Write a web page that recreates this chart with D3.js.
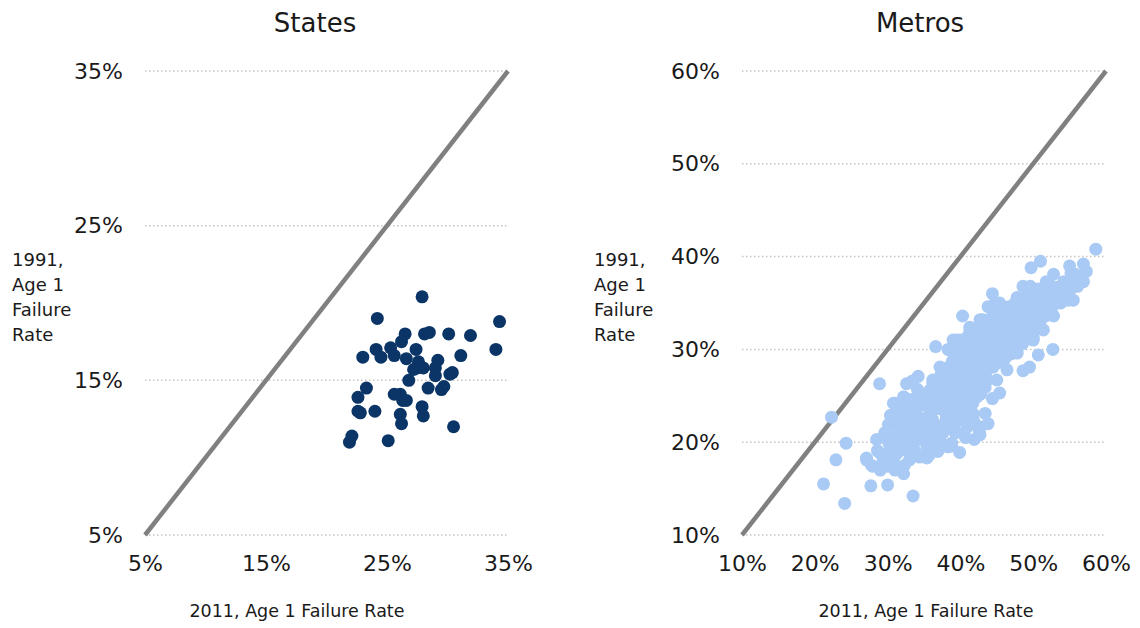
<!DOCTYPE html>
<html>
<head>
<meta charset="utf-8">
<script src="https://cdn.jsdelivr.net/npm/d3@7"></script>
<style>
  html, body { margin: 0; padding: 0; background: #ffffff; }
  svg { display: block; }
  text { font-family: "DejaVu Sans", sans-serif; fill: #1a1a1a; }
</style>
</head>
<body>
<svg id="chart" width="1140" height="628"></svg>
<script>
// Age 1 failure rates (%), 2011 (x) against 1991 (y)
const stateTicks = [5, 15, 25, 35];
const metroTicks = [10, 20, 30, 40, 50, 60];

const statePoints = [
  [27.9, 20.4], [24.2, 19.0], [34.3, 18.8], [34.0, 17.0], [26.5, 18.0],
  [26.2, 17.5], [28.1, 18.0], [28.5, 18.1], [30.1, 18.0], [31.9, 17.9],
  [23.0, 16.5], [24.1, 17.0], [24.5, 16.5], [25.3, 17.1], [25.6, 16.6],
  [26.6, 16.4], [27.4, 17.0], [27.6, 16.2], [29.2, 16.3], [31.1, 16.6],
  [27.2, 15.7], [27.5, 15.8], [28.0, 15.8], [29.0, 15.8], [29.0, 15.3],
  [30.2, 15.4], [30.4, 15.5], [26.8, 15.0], [28.4, 14.5], [29.7, 14.6],
  [29.5, 14.4], [23.3, 14.5], [22.6, 13.9], [25.6, 14.1], [26.1, 14.1],
  [26.3, 13.7], [26.6, 13.7], [22.6, 13.0], [22.8, 12.9], [24.0, 13.0],
  [27.9, 13.3], [28.0, 12.7], [26.1, 12.8], [26.2, 12.2], [30.5, 12.0],
  [22.1, 11.4], [21.9, 11.0], [25.1, 11.1]
];

// Outlying metros and the edges of the cloud
const metroOuter = [
  [58.6, 40.8], [51.0, 39.5], [49.7, 38.8], [55.0, 39.0], [55.2, 38.2],
  [56.9, 39.2], [57.3, 38.4], [56.4, 37.8], [56.9, 37.3], [56.1, 36.8],
  [52.8, 38.1], [51.8, 37.3], [48.6, 36.8], [49.6, 36.8], [44.4, 36.0],
  [44.8, 35.0], [54.8, 35.3], [53.8, 35.0], [52.8, 33.6], [40.3, 33.6],
  [52.7, 30.0], [50.7, 29.4], [36.6, 30.3], [38.3, 30.0], [48.6, 27.7],
  [49.5, 28.1], [45.4, 25.3], [44.4, 24.7], [42.8, 25.2], [28.9, 26.3],
  [32.6, 26.3], [34.2, 27.1], [33.4, 26.6], [22.3, 22.7], [24.3, 19.9],
  [22.9, 18.1], [21.2, 15.5], [24.1, 13.4], [27.7, 15.3], [30.0, 15.4],
  [33.5, 14.2], [32.2, 16.6], [31.0, 17.0], [30.1, 17.4], [29.0, 17.0],
  [28.0, 17.4], [27.1, 18.1], [28.5, 20.3], [30.1, 21.9], [31.0, 24.2],
  [32.2, 24.9], [32.4, 23.8], [35.1, 24.5], [34.9, 24.0], [33.0, 18.1],
  [33.1, 18.8], [35.4, 18.3], [35.7, 18.6], [39.9, 18.9], [37.2, 19.9],
  [38.3, 19.5], [38.8, 19.9], [39.3, 21.0], [42.7, 20.8], [42.5, 21.7],
  [43.4, 23.1], [43.8, 22.0], [27.1, 18.3], [27.8, 17.5], [28.9, 17.2],
  [29.9, 18.2], [31.0, 18.6], [31.3, 17.4], [33.1, 18.2], [37.7, 19.7],
  [38.8, 19.6], [39.4, 21.1], [42.6, 21.2]
];

// Lower part of the cloud (2011 rates of roughly 29-43%)
const metroLower = [
  [29.9, 20.3], [31.3, 21.0], [30.6, 19.5], [32.6, 20.1], [34.0, 20.6],
  [35.4, 20.2], [37.2, 20.6], [36.7, 21.7], [32.6, 22.0], [34.5, 22.4],
  [33.5, 23.1], [35.4, 22.7], [31.7, 24.2], [32.4, 23.5], [30.8, 24.2],
  [34.9, 21.5], [37.2, 26.0], [38.1, 26.7], [39.5, 27.1], [37.2, 24.9],
  [39.0, 24.2], [40.9, 24.5], [41.8, 25.6], [42.7, 25.3], [39.9, 23.1],
  [41.3, 23.5], [38.1, 22.7], [41.8, 22.4], [36.3, 23.5], [30.7, 20.2],
  [31.7, 21.0], [33.5, 21.6], [36.2, 22.4], [35.4, 20.6], [37.2, 21.0],
  [38.2, 23.8], [39.5, 23.1], [40.9, 23.1], [41.7, 24.2], [39.9, 24.9],
  [31.3, 23.1], [32.7, 22.7], [34.0, 22.4], [33.4, 23.8], [32.1, 23.5],
  [32.7, 21.6], [34.5, 21.6], [35.8, 21.0], [36.8, 21.6], [31.7, 20.2],
  [30.7, 19.5], [29.9, 18.8], [31.3, 18.8], [29.0, 18.8], [29.4, 18.1],
  [32.7, 19.5], [34.0, 20.2], [35.4, 19.5], [36.8, 20.2], [37.6, 21.0],
  [38.2, 22.4], [39.0, 21.6], [39.9, 22.4], [41.3, 23.8], [41.7, 23.1],
  [40.9, 21.6], [42.3, 24.9], [39.0, 24.5], [37.6, 23.5], [36.2, 23.8],
  [37.2, 24.5], [38.2, 25.3], [34.5, 24.9], [37.2, 25.3], [36.2, 26.4],
  [35.8, 25.6], [36.2, 26.7], [37.2, 25.9],
  [30.2, 19.9], [31.9, 19.2], [33.8, 19.0], [36.1, 19.3], [35.0, 21.1],
  [33.0, 21.2], [31.4, 22.2], [33.9, 23.4], [35.9, 22.0], [37.9, 22.1],
  [38.7, 23.3], [40.4, 22.8], [40.5, 24.0], [41.1, 25.2], [39.7, 25.7],
  [38.6, 25.0], [36.8, 24.0], [35.6, 24.6], [34.1, 25.7], [33.3, 24.6],
  [30.4, 22.9], [29.6, 21.0], [28.6, 19.1], [32.3, 17.5], [34.4, 18.4],
  [36.9, 19.0], [40.7, 20.5], [41.9, 20.3]
];

// Dense core of the cloud (2011 rates of roughly 36-56%)
const metroCore = [
  [36.5, 24.2], [36.4, 25.4], [36.6, 26.6], [37.3, 23.6], [37.2, 24.8],
  [37.4, 26.1], [37.3, 27.2], [38.1, 24.4], [38.0, 25.6], [38.2, 26.9],
  [38.1, 28.0], [38.9, 25.0], [38.8, 26.2], [39.0, 27.5], [38.9, 28.7],
  [39.7, 25.5], [39.6, 26.8], [39.8, 28.0], [39.7, 29.3], [39.5, 30.4],
  [40.5, 26.0], [40.4, 27.3], [40.6, 28.5], [40.5, 29.8], [40.3, 31.0],
  [41.3, 26.4], [41.2, 27.8], [41.4, 29.0], [41.3, 30.3], [41.1, 31.5],
  [42.1, 26.9], [42.0, 28.2], [42.2, 29.5], [42.1, 30.8], [41.9, 32.0],
  [42.9, 27.3], [42.8, 28.7], [43.0, 30.0], [42.9, 31.2], [42.7, 32.6],
  [43.7, 27.8], [43.6, 29.1], [43.8, 30.4], [43.7, 31.7], [43.5, 33.0],
  [44.5, 28.2], [44.4, 29.5], [44.6, 30.8], [44.5, 32.1], [44.3, 33.4],
  [45.3, 28.6], [45.2, 29.9], [45.4, 31.2], [45.3, 32.5], [45.1, 33.8],
  [46.1, 29.0], [46.0, 30.3], [46.2, 31.6], [46.1, 32.9], [45.9, 34.2],
  [46.9, 29.5], [46.8, 30.7], [47.0, 32.0], [46.9, 33.3], [46.7, 34.6],
  [47.7, 30.0], [47.6, 31.2], [47.8, 32.4], [47.7, 33.7], [47.5, 35.0],
  [48.5, 30.6], [48.4, 31.7], [48.6, 32.9], [48.5, 34.1], [48.3, 35.3],
  [49.3, 31.3], [49.2, 32.4], [49.4, 33.4], [49.3, 34.5], [49.1, 35.6],
  [50.1, 32.0], [50.0, 33.0], [50.2, 34.0], [50.1, 35.0], [49.9, 36.0],
  [50.9, 32.8], [50.8, 33.7], [51.0, 34.6], [50.9, 35.5], [50.7, 36.5],
  [51.7, 33.6], [51.6, 34.4], [51.8, 35.3], [51.7, 36.2], [52.5, 34.4],
  [52.4, 35.2], [52.6, 36.0], [52.5, 36.8], [53.3, 35.0], [53.2, 35.9],
  [53.4, 36.7], [54.1, 35.7], [54.0, 36.5], [54.2, 37.3], [54.9, 36.2],
  [55.0, 37.0], [55.5, 35.3], [55.8, 38.1],
  [30.7, 20.2], [39.0, 31.0], [40.9, 31.0], [41.7, 32.1], [43.1, 33.2],
  [44.5, 33.5], [45.9, 34.2], [47.2, 34.6], [48.6, 35.3], [50.0, 35.6],
  [50.9, 36.4], [52.3, 36.1], [53.7, 36.7], [55.1, 36.4], [49.6, 33.9],
  [50.9, 32.4], [50.0, 31.3], [48.6, 30.7], [47.2, 29.9], [45.9, 28.9],
  [44.5, 28.1], [43.7, 26.7], [42.3, 25.9], [45.4, 31.0], [47.2, 32.4],
  [44.1, 31.0], [42.7, 30.3], [43.7, 32.4], [41.3, 32.1], [39.9, 31.0],
  [38.6, 29.9], [37.2, 28.1], [39.5, 25.9], [41.3, 26.7], [42.7, 27.5],
  [44.5, 29.9], [46.4, 31.8], [48.2, 33.2], [49.6, 32.8], [50.9, 34.6],
  [51.9, 35.3], [53.3, 35.6], [39.5, 31.0], [41.3, 32.4], [42.7, 33.2],
  [43.8, 34.6], [45.4, 35.0], [47.8, 35.6], [49.1, 36.4], [51.4, 32.1],
  [50.0, 31.0], [47.8, 29.6], [46.4, 27.8], [45.0, 26.7], [43.4, 25.9],
  [40.9, 28.1], [41.7, 29.2], [39.5, 29.2], [39.5, 27.5], [38.2, 26.7]
];

const metroPoints = metroOuter.concat(metroLower, metroCore);

const panels = [
  {
    title: "States", ticks: stateTicks, domain: [5, 35], data: statePoints,
    color: "#0b3567", x0: 145, x1: 508, titleX: 315, axisTitleX: 297, yTitleX: 12
  },
  {
    title: "Metros", ticks: metroTicks, domain: [10, 60], data: metroPoints,
    color: "#a9caf4", x0: 742, x1: 1106, titleX: 920, axisTitleX: 926, yTitleX: 594
  }
];

const plotTop = 71, plotBottom = 535;
const svg = d3.select("#chart");
const fmt = d => d + "%";

panels.forEach(p => {
  const x = d3.scaleLinear().domain(p.domain).range([p.x0, p.x1]);
  const y = d3.scaleLinear().domain(p.domain).range([plotBottom, plotTop]);
  const g = svg.append("g");

  // dotted horizontal gridlines
  g.append("g").selectAll("line").data(p.ticks).join("line")
    .attr("x1", p.x0).attr("x2", p.x1)
    .attr("y1", d => y(d)).attr("y2", d => y(d))
    .attr("stroke", "#c4c4c4").attr("stroke-width", 1.5)
    .attr("stroke-dasharray", "1.5,2.5");

  // y axis labels
  const yAxis = d3.axisLeft(y).tickValues(p.ticks).tickFormat(fmt).tickSize(0).tickPadding(22);
  const ya = g.append("g").attr("transform", `translate(${p.x0},0)`).call(yAxis);
  ya.select(".domain").remove();
  ya.selectAll("text").style("font-size", "22px").style("font-family", "DejaVu Sans").attr("fill", "#1a1a1a");

  // x axis labels
  const xAxis = d3.axisBottom(x).tickValues(p.ticks).tickFormat(fmt).tickSize(0).tickPadding(20);
  const xa = g.append("g").attr("transform", `translate(0,${plotBottom})`).call(xAxis);
  xa.select(".domain").remove();
  xa.selectAll("text").style("font-size", "22px").style("font-family", "DejaVu Sans").attr("fill", "#1a1a1a");

  // 45-degree reference line
  g.append("line")
    .attr("x1", x(p.domain[0])).attr("y1", y(p.domain[0]))
    .attr("x2", x(p.domain[1])).attr("y2", y(p.domain[1]))
    .attr("stroke", "#808080").attr("stroke-width", 4.5);

  // points
  g.append("g").selectAll("circle").data(p.data).join("circle")
    .attr("cx", d => x(d[0])).attr("cy", d => y(d[1]))
    .attr("r", 6.5).attr("fill", p.color);

  // titles
  g.append("text").attr("x", p.titleX).attr("y", 32).attr("text-anchor", "middle")
    .style("font-size", "26px").text(p.title);

  g.append("text").attr("x", p.axisTitleX).attr("y", 617).attr("text-anchor", "middle")
    .style("font-size", "17.5px").text("2011, Age 1 Failure Rate");

  const yt = g.append("text").style("font-size", "18px");
  ["1991,", "Age 1", "Failure", "Rate"].forEach((s, i) => {
    yt.append("tspan").attr("x", p.yTitleX).attr("y", 266 + i * 25).text(s);
  });
});
</script>
</body>
</html>
